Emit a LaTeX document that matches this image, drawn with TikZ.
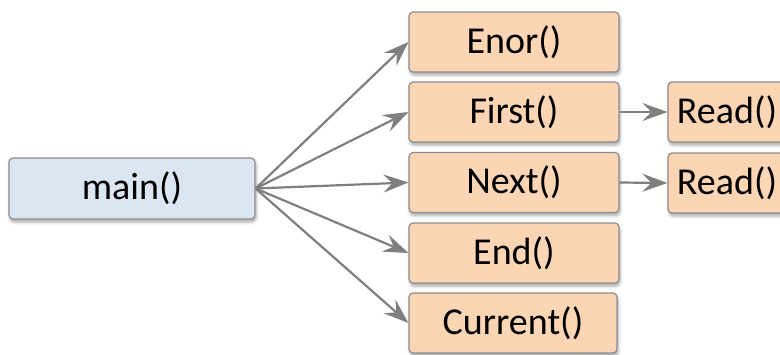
\documentclass[tikz,border=0pt]{standalone}
\usepackage{fontspec}
\setmainfont{Carlito}
\usetikzlibrary{arrows.meta,shadows.blur}
\definecolor{mainfill}{HTML}{DCE6F2}
\definecolor{funcfill}{HTML}{FCD5B5}
\definecolor{edgegray}{HTML}{8C8C8C}
\definecolor{arrowgray}{HTML}{7F7F7F}
\tikzset{
  box/.style={draw=edgegray, line width=1.2pt, rounded corners=4pt,
    minimum height=60pt, inner sep=0pt, font=\fontsize{38}{45}\selectfont,
    blur shadow={shadow xshift=1pt, shadow yshift=-3pt, shadow blur radius=3pt, shadow opacity=35}},
  mainbox/.style={box, fill=mainfill, minimum width=246pt, minimum height=61pt},
  funcbox/.style={box, fill=funcfill, minimum width=210pt},
  readbox/.style={box, fill=funcfill, minimum width=118pt},
  call/.style={draw=arrowgray, line width=2.2pt,
    -{Stealth[length=25pt, width=18pt, inset=9pt]}}
}
\begin{document}
\begin{tikzpicture}[x=1pt, y=-1pt]
  \useasboundingbox (0,0) rectangle (780,354);
  \begin{scope}
    \clip (0,0) rectangle (780,354);
    \node[mainbox] (main) at (132,188.5) {main()};
    \node[funcbox] (enor) at (514,42) {Enor()};
    \node[funcbox] (first) at (514,112) {First()};
    \node[funcbox] (next) at (514,182.5) {Next()};
    \node[funcbox] (end) at (514,253) {End()};
    \node[funcbox, minimum width=208pt] (current) at (513,323) {Current()};
    \node[readbox] (read1) at (727,112) {Read()};
    \node[readbox] (read2) at (727,183) {Read()};

    \foreach \t in {enor,first,next,end,current}
      \draw[call] (main.east) -- (\t.west);
    \draw[call] (first.east) -- (read1.west);
    \draw[call] (next.east) -- (read2.west);
  \end{scope}
\end{tikzpicture}
\end{document}
